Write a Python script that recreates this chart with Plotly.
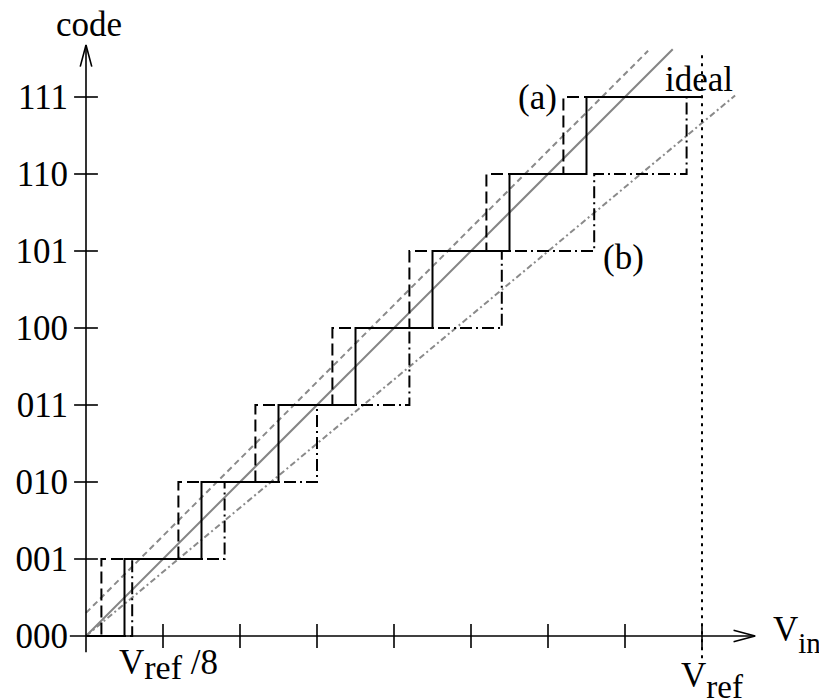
import plotly.graph_objects as go

# ---- data (x in units of Vref/8, y in code steps) ----
codes = ["000", "001", "010", "011", "100", "101", "110", "111"]
code_levels = [0, 1, 2, 3, 4, 5, 6, 7]
x_ticks = [1, 2, 3, 4, 5, 6, 7, 8]
ideal_transitions = [0.5, 1.5, 2.5, 3.5, 4.5, 5.5, 6.5]
offset_transitions = [0.2, 1.2, 2.2, 3.2, 4.2, 5.2, 6.2]   # (a)
gain_transitions = [0.6, 1.8, 3.0, 4.2, 5.4, 6.6, 7.8]      # (b)
ideal_end, offset_end, gain_end = 8.0, 6.6, 8.0
ideal_line_x = [0.0, 7.62]
ideal_line_y = [0.0, 7.62]
offset_line_x = [0.0, 7.3]
offset_line_y = [0.3, 7.6]
gain_line_x = [0.0, 8.43]
gain_line_y = [0.0, 7.02]
vref = 8.0

FONT = "Liberation Serif, Times New Roman, serif"
FS = 35


def sub(txt, size, shift):
    return '<span style="font-size:{}px;baseline-shift:-{}px">{}</span>'.format(size, shift, txt)


# page offset of the plot div (body margin) is 8px
W, H, OFF = 827, 699, 8
PX, X0, Y0 = 77.0, 86.0, 636.0


def staircase(transitions, end):
    xs, ys = [0.0], [0]
    for k, t in enumerate(transitions):
        xs += [t, t]
        ys += [k, k + 1]
    xs.append(end)
    ys.append(len(transitions))
    return xs, ys


fig = go.Figure()

# reference lines (gray)
fig.add_trace(go.Scatter(x=offset_line_x, y=offset_line_y, mode="lines",
                         line=dict(color="#8a8a8a", width=2, dash="6px,4px")))
fig.add_trace(go.Scatter(x=gain_line_x, y=gain_line_y, mode="lines",
                         line=dict(color="#8a8a8a", width=2, dash="6px,3px,2px,3px")))
fig.add_trace(go.Scatter(x=ideal_line_x, y=ideal_line_y, mode="lines",
                         line=dict(color="#858585", width=2)))

# staircases
sx, sy = staircase(offset_transitions, offset_end)
fig.add_trace(go.Scatter(x=sx, y=sy, mode="lines",
                         line=dict(color="black", width=2, dash="12px,5px")))
sx, sy = staircase(gain_transitions, gain_end)
fig.add_trace(go.Scatter(x=sx, y=sy, mode="lines",
                         line=dict(color="black", width=2, dash="12px,4px,2px,4px")))
sx, sy = staircase(ideal_transitions, ideal_end)
fig.add_trace(go.Scatter(x=sx, y=sy, mode="lines",
                         line=dict(color="black", width=2)))

# Vref dotted vertical
fig.add_trace(go.Scatter(x=[vref, vref], y=[-0.29, 7.6], mode="lines",
                         line=dict(color="black", width=2, dash="3px,5px")))

# axes lines
fig.add_trace(go.Scatter(x=[-0.21, 8.69], y=[0, 0], mode="lines",
                         line=dict(color="black", width=1.6)))
fig.add_trace(go.Scatter(x=[0, 0], y=[-0.21, 7.675], mode="lines",
                         line=dict(color="black", width=1.6)))
# arrow heads (open chevrons)
fig.add_trace(go.Scatter(x=[8.69 - 0.28, 8.69, 8.69 - 0.28], y=[0.075, 0, -0.075], mode="lines",
                         line=dict(color="black", width=1.6)))
fig.add_trace(go.Scatter(x=[-0.075, 0, 0.075], y=[7.675 - 0.28, 7.675, 7.675 - 0.28], mode="lines",
                         line=dict(color="black", width=1.6)))

# tick marks crossing the axes
fig.add_trace(go.Scatter(x=x_ticks, y=[0] * len(x_ticks), mode="markers",
                         marker=dict(symbol="line-ns", size=17,
                                     line=dict(color="black", width=1.6))))
fig.add_trace(go.Scatter(x=[0] * (len(code_levels) - 1), y=code_levels[1:], mode="markers",
                         marker=dict(symbol="line-ew", size=17,
                                     line=dict(color="black", width=1.6))))


def label(text, x, y, xanchor="center"):
    fig.add_annotation(x=x, y=y, xref="x", yref="y", text=text, showarrow=False,
                       xanchor=xanchor, yanchor="middle",
                       font=dict(family=FONT, size=FS, color="black"))


label("code", 0.04, 7.94)
label("(a)", 5.86, 7.0)
label("ideal", 7.96, 7.23)
label("(b)", 6.98, 4.92)
label("V" + sub("ref", 34, 5) + " /8", 1.065, -0.37)
label("V" + sub("in", 29, 12), 9.24, 0.02)
label("V" + sub("ref", 33, 11), 8.13, -0.58)

fig.update_layout(
    width=W - OFF, height=H - OFF,
    margin=dict(l=0, r=0, t=0, b=0),
    paper_bgcolor="white", plot_bgcolor="white",
    showlegend=False,
    xaxis=dict(range=[(OFF - X0) / PX, (W - X0) / PX], visible=False, fixedrange=True),
    yaxis=dict(range=[(Y0 - H) / PX, (Y0 - OFF) / PX], anchor="free",
               position=(X0 - OFF) / (W - OFF),
               tickvals=code_levels, ticktext=codes, ticks="",
               showline=False, showgrid=False, zeroline=False,
               ticklabelstandoff=18, automargin=False,
               tickfont=dict(family=FONT, size=FS, color="black"), fixedrange=True),
)

fig.write_html("out.html")
